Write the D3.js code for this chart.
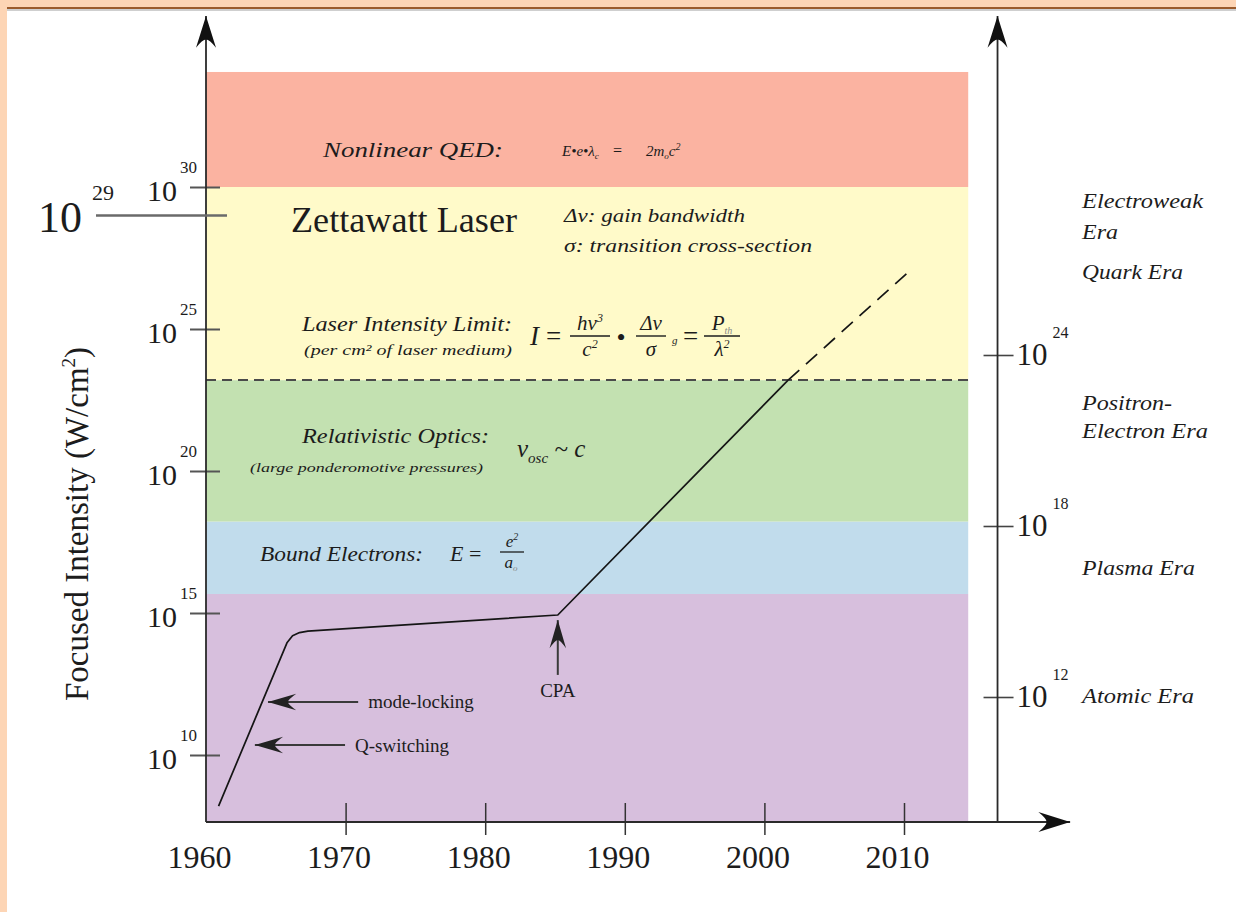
<!DOCTYPE html>
<html>
<head>
<meta charset="utf-8">
<script src="https://cdn.jsdelivr.net/npm/d3@7"></script>
<style>
  html, body { margin: 0; padding: 0; background: #fff; }
  svg { display: block; }
  text { font-family: "Liberation Serif", "Times New Roman", serif; fill: #1c1c1c; }
</style>
</head>
<body>
<svg id="chart" width="1236" height="912"></svg>
<script>
// ---- data -------------------------------------------------------------
// Calendar years on the bottom axis
const yearTicks = [1960, 1970, 1980, 1990, 2000, 2010];
// Left axis: focused intensity, exponents of 10 (W/cm^2)
const intensityExponents = [10, 15, 20, 25, 30];
// Highlighted Zettawatt level
const zettawattExponent = 29;
// Right axis exponents
const eraExponents = [12, 18, 24];
// Physical regimes, bottom to top (log10 of intensity)
const regimeNames  = ["Atomic", "Bound Electrons", "Relativistic Optics", "Laser Intensity Limit", "Nonlinear QED"];
const regimeLower  = [7.64, 15.67, 18.22, 23.2, 30];
const regimeUpper  = [15.67, 18.22, 23.2, 30, 34.05];
const regimeColors = ["#d7bfdd", "#c1dcec", "#c3e1b1", "#fffac9", "#fbb3a1"];
const regimeEndYear = 2014.6;
// Peak focused intensity achieved (year, log10 W/cm^2)
const historyYears     = [1960.9, 1965.8, 1966.2, 1966.7, 1967.3, 1985.2, 2001.7];
const historyExponents = [8.2, 13.95, 14.2, 14.31, 14.36, 14.93, 23.2];
// Projected growth beyond the laser-medium limit
const projectionYears     = [2001.7, 2010.3];
const projectionExponents = [23.2, 27.0];
// Technology milestones: arrow from [year, exponent] to [year, exponent]
const milestoneNames = ["mode-locking", "Q-switching", "CPA"];
const milestoneFrom  = [[1970.9, 11.87], [1969.96, 10.35], [1985.2, 12.82]];
const milestoneTo    = [[1964.44, 11.87], [1963.5, 10.35], [1985.2, 14.75]];
// Cosmological eras listed on the right
const eraNames = ["Electroweak", "Era", "Quark Era", "Positron-", "Electron Era", "Plasma Era", "Atomic Era"];

// ---- layout -----------------------------------------------------------
const W = 1236, H = 912;
const svg = d3.select("#chart");

const x = d3.scaleLinear().domain([1960, 2010]).range([206, 904]);
const y = d3.scaleLog().domain([1e10, 1e30]).range([755, 187]);
const yRight = d3.scaleLog().domain([1e12, 1e24]).range([697, 355]);

const axisTop = 16;
const x0 = x(1960);
const y0 = y(10 ** regimeLower[0]);
const xRightAxis = x(2016.7);
const xArrowEnd = x(2021.9);

// page frame
svg.append("rect").attr("width", W).attr("height", H).attr("fill", "#fdd5b5");
svg.append("rect").attr("x", 7).attr("y", 9).attr("width", W - 7).attr("height", H - 9).attr("fill", "#fff");
svg.append("rect").attr("x", 7).attr("y", 7).attr("width", W - 7).attr("height", 2).attr("fill", "#9b5b2c");
svg.append("rect").attr("x", 7).attr("y", 9).attr("width", W - 7).attr("height", 2).attr("fill", "#cfcfcf");

// arrowhead markers
const defs = svg.append("defs");
defs.append("marker").attr("id", "axisHead")
  .attr("markerUnits", "userSpaceOnUse").attr("markerWidth", 40).attr("markerHeight", 40)
  .attr("viewBox", "-30 -15 34 30").attr("refX", 0).attr("refY", 0).attr("orient", "auto")
  .append("path").attr("d", "M0,0 L-27,-8.5 Q-20,-3 -20,0 Q-20,3 -27,8.5 Z").attr("fill", "#111");
defs.append("marker").attr("id", "noteHead")
  .attr("markerUnits", "userSpaceOnUse").attr("markerWidth", 40).attr("markerHeight", 40)
  .attr("viewBox", "-30 -15 34 30").attr("refX", 0).attr("refY", 0).attr("orient", "auto")
  .append("path").attr("d", "M0,0 L-24,-7 Q-17,-2 -17,0 Q-17,2 -24,7 Z").attr("fill", "#222");

// regime bands
svg.append("g").selectAll("rect").data(regimeNames).join("rect")
  .attr("x", x0)
  .attr("width", x(regimeEndYear) - x0)
  .attr("y", (d, i) => y(10 ** regimeUpper[i]))
  .attr("height", (d, i) => y(10 ** regimeLower[i]) - y(10 ** regimeUpper[i]))
  .attr("fill", (d, i) => regimeColors[i]);

// dashed limit of the laser medium
const yLimit = y(10 ** regimeLower[3]);
svg.append("line")
  .attr("x1", x0).attr("x2", x(regimeEndYear)).attr("y1", yLimit).attr("y2", yLimit)
  .attr("stroke", "#4a4a4a").attr("stroke-width", 2).attr("stroke-dasharray", "10,6");

// ---- axes ---------------------------------------------------------------
const gx = svg.append("g").attr("transform", `translate(0,${y0})`)
  .call(d3.axisBottom(x).tickValues(yearTicks).tickFormat(d3.format("d")).tickSize(13));
gx.select(".domain").remove();
gx.selectAll(".tick line").attr("y1", -19).attr("y2", 13).attr("stroke", "#333").attr("stroke-width", 1.5);
gx.selectAll(".tick").filter(d => d === 1960).select("line").remove();
gx.selectAll(".tick text").attr("y", 46).attr("dy", 0).attr("dx", -7)
  .attr("font-size", 32).attr("font-family", "Liberation Serif").attr("fill", "#111");

const gy = svg.append("g").attr("transform", `translate(${x0},0)`)
  .call(d3.axisLeft(y).tickValues(intensityExponents.map(e => 10 ** e)).tickFormat(""));
gy.select(".domain").remove();
gy.selectAll(".tick line").attr("x1", -16).attr("x2", 14).attr("stroke", "#555").attr("stroke-width", 2);
gy.selectAll(".tick").each(function (d) {
  const t = d3.select(this);
  t.append("text").attr("x", -29).attr("y", 13).attr("text-anchor", "end")
    .attr("font-size", 30).attr("fill", "#111").text("10");
  t.append("text").attr("x", -26).attr("y", -15).attr("text-anchor", "start")
    .attr("font-size", 17).attr("fill", "#111").text(Math.round(Math.log10(d)));
});

const gr = svg.append("g").attr("transform", `translate(${xRightAxis},0)`)
  .call(d3.axisRight(yRight).tickValues(eraExponents.map(e => 10 ** e)).tickFormat(""));
gr.select(".domain").remove();
gr.selectAll(".tick line").attr("x1", -14).attr("x2", 16).attr("stroke", "#444").attr("stroke-width", 1.6);
gr.selectAll(".tick").each(function (d) {
  const t = d3.select(this);
  t.append("text").attr("x", 19).attr("y", 9).attr("text-anchor", "start")
    .attr("font-size", 31).attr("fill", "#111").text("10");
  t.append("text").attr("x", 55).attr("y", -18).attr("text-anchor", "start")
    .attr("font-size", 16).attr("fill", "#111").text(Math.round(Math.log10(d)));
});

// axis lines with arrowheads
const axisStyle = sel => sel.attr("stroke", "#2a2a2a").attr("stroke-width", 1.8).attr("fill", "none");
svg.append("line").attr("x1", x0).attr("x2", x0).attr("y1", y0).attr("y2", axisTop)
  .call(axisStyle).attr("marker-end", "url(#axisHead)");
svg.append("line").attr("x1", xRightAxis).attr("x2", xRightAxis).attr("y1", y0).attr("y2", axisTop)
  .call(axisStyle).attr("marker-end", "url(#axisHead)");
svg.append("line").attr("x1", x0).attr("x2", xArrowEnd).attr("y1", y0).attr("y2", y0)
  .call(axisStyle).attr("marker-end", "url(#axisHead)");

// Zettawatt level marker
const yZ = y(10 ** zettawattExponent);
svg.append("line").attr("x1", 96).attr("x2", 227).attr("y1", yZ).attr("y2", yZ)
  .attr("stroke", "#6a6a6a").attr("stroke-width", 2.5);
svg.append("text").attr("x", 82).attr("y", yZ + 17).attr("text-anchor", "end")
  .attr("font-size", 44).attr("fill", "#111").text("10");
svg.append("text").attr("x", 92).attr("y", yZ - 15).attr("font-size", 22).attr("fill", "#111")
  .text(zettawattExponent);

// y-axis title
svg.append("text").attr("transform", "translate(88,524) rotate(-90)")
  .attr("text-anchor", "middle").attr("font-size", 33).attr("fill", "#111")
  .call(t => {
    t.append("tspan").text("Focused Intensity (W/cm");
    t.append("tspan").attr("font-size", 19).attr("dy", -13).text("2");
    t.append("tspan").attr("dy", 13).text(")");
  });

// ---- data curve -----------------------------------------------------------
const line = d3.line().x(d => x(d[0])).y(d => y(10 ** d[1]));
svg.append("path").datum(d3.zip(historyYears, historyExponents))
  .attr("d", line).attr("fill", "none").attr("stroke", "#151515").attr("stroke-width", 1.7)
  .attr("stroke-linejoin", "round");
svg.append("path").datum(d3.zip(projectionYears, projectionExponents))
  .attr("d", line).attr("fill", "none").attr("stroke", "#151515").attr("stroke-width", 1.7)
  .attr("stroke-dasharray", "15,9");

// milestones
const gm = svg.append("g");
milestoneNames.forEach((name, i) => {
  const [fx, fy] = milestoneFrom[i], [tx, ty] = milestoneTo[i];
  gm.append("line")
    .attr("x1", x(fx)).attr("y1", y(10 ** fy)).attr("x2", x(tx)).attr("y2", y(10 ** ty))
    .attr("stroke", "#3a3a3a").attr("stroke-width", 2).attr("marker-end", "url(#noteHead)");
});
const milestoneText = [
  { dx: 10, dy: 6, anchor: "start" },
  { dx: 10, dy: 7, anchor: "start" },
  { dx: 0, dy: 22, anchor: "middle" }
];
milestoneNames.forEach((name, i) => {
  const [fx, fy] = milestoneFrom[i];
  gm.append("text")
    .attr("x", x(fx) + milestoneText[i].dx).attr("y", y(10 ** fy) + milestoneText[i].dy)
    .attr("text-anchor", milestoneText[i].anchor)
    .attr("font-size", 19).attr("fill", "#1a1a1a").text(name);
});

// ---- regime annotations -------------------------------------------------------
function label(x, yb, text, size, width, italic = true) {
  const t = svg.append("text").attr("x", x).attr("y", yb).attr("font-size", size).text(text);
  if (italic) t.attr("font-style", "italic");
  if (width) t.attr("textLength", width).attr("lengthAdjust", "spacingAndGlyphs");
  return t;
}

label(323, 157, "Nonlinear QED:", 22, 180);
// E·e·λc = 2m0c²
svg.append("text").attr("x", 562).attr("y", 156).attr("font-size", 15).attr("font-style", "italic")
  .call(t => {
    t.append("tspan").text("E•e•λ");
    t.append("tspan").attr("font-size", 9).attr("dy", 3).text("c");
  });
svg.append("text").attr("x", 613).attr("y", 156).attr("font-size", 16).text("=");
svg.append("text").attr("x", 646).attr("y", 156).attr("font-size", 15).attr("font-style", "italic")
  .call(t => {
    t.append("tspan").text("2m");
    t.append("tspan").attr("font-size", 9).attr("dy", 3).text("o");
    t.append("tspan").attr("dy", -3).text("c");
    t.append("tspan").attr("font-size", 10).attr("dy", -6).text("2");
  });

label(291, 232, "Zettawatt Laser", 35, 226, false).attr("fill", "#111");
label(564, 222, "Δν: gain bandwidth", 19, 181);
label(564, 252, "σ: transition cross-section", 19, 248);

label(302, 331, "Laser Intensity Limit:", 20, 210);
label(304, 355, "(per cm² of laser medium)", 14, 208);

// I = hν³/c² • Δνg/σ = Pth/λ²
function fraction(cx, num, den, barW, size, axisY) {
  svg.append("text").attr("x", cx).attr("y", axisY - 6).attr("text-anchor", "middle")
    .attr("font-size", size).attr("font-style", "italic").call(num);
  svg.append("line").attr("x1", cx - barW / 2).attr("x2", cx + barW / 2)
    .attr("y1", axisY).attr("y2", axisY).attr("stroke", "#1c1c1c").attr("stroke-width", 1.4);
  svg.append("text").attr("x", cx).attr("y", axisY + 20).attr("text-anchor", "middle")
    .attr("font-size", size).attr("font-style", "italic").call(den);
}
const mathAxis = 336;
svg.append("text").attr("x", 530).attr("y", mathAxis + 9).attr("font-size", 27).attr("font-style", "italic").text("I");
svg.append("text").attr("x", 546).attr("y", mathAxis + 9).attr("font-size", 27).text("=");
fraction(590, t => { t.append("tspan").text("hν"); t.append("tspan").attr("font-size", 12).attr("dy", -8).text("3"); },
  t => { t.append("tspan").text("c"); t.append("tspan").attr("font-size", 12).attr("dy", -8).text("2"); }, 40, 21, mathAxis);
svg.append("text").attr("x", 621).attr("y", mathAxis + 10).attr("text-anchor", "middle").attr("font-size", 26).text("•");
fraction(651, t => t.text("Δν"), t => t.text("σ"), 30, 21, mathAxis);
svg.append("text").attr("x", 672).attr("y", mathAxis + 8).attr("font-size", 11).attr("font-style", "italic")
  .attr("fill", "#9a9a9a").text("g");
svg.append("text").attr("x", 683).attr("y", mathAxis + 9).attr("font-size", 27).text("=");
fraction(722, t => { t.append("tspan").text("P"); t.append("tspan").attr("font-size", 10).attr("dy", 4).attr("fill", "#888").text("th"); },
  t => { t.append("tspan").text("λ"); t.append("tspan").attr("font-size", 12).attr("dy", -8).text("2"); }, 36, 21, mathAxis);

label(302, 443, "Relativistic Optics:", 21, 187);
label(250, 472, "(large ponderomotive pressures)", 13, 233);
svg.append("text").attr("x", 517).attr("y", 457).attr("font-size", 25).attr("font-style", "italic")
  .call(t => {
    t.append("tspan").text("v");
    t.append("tspan").attr("font-size", 15).attr("dy", 6).text("osc");
    t.append("tspan").attr("dy", -6).text(" ~ c");
  });

label(260, 561, "Bound Electrons:", 20, 163);
svg.append("text").attr("x", 450).attr("y", 561).attr("font-size", 22).attr("font-style", "italic").text("E");
svg.append("text").attr("x", 469).attr("y", 561).attr("font-size", 22).text("=");
svg.append("text").attr("x", 512).attr("y", 547).attr("text-anchor", "middle").attr("font-size", 17).attr("font-style", "italic")
  .call(t => { t.append("tspan").text("e"); t.append("tspan").attr("font-size", 10).attr("dy", -7).text("2"); });
svg.append("line").attr("x1", 500).attr("x2", 524).attr("y1", 552).attr("y2", 552).attr("stroke", "#1c1c1c").attr("stroke-width", 1.3);
svg.append("text").attr("x", 511).attr("y", 568).attr("text-anchor", "middle").attr("font-size", 17).attr("font-style", "italic")
  .call(t => { t.append("tspan").text("a"); t.append("tspan").attr("font-size", 9).attr("dy", 3).attr("fill", "#888").text("o"); });

// era labels on the right
const eraBaselines = [208, 239, 279, 410, 438, 575, 703];
const eraWidths = [121, 36, 101, 90, 126, 113, 112];
eraNames.forEach((n, i) => label(1082, eraBaselines[i], n, 21, eraWidths[i]));
</script>
</body>
</html>
